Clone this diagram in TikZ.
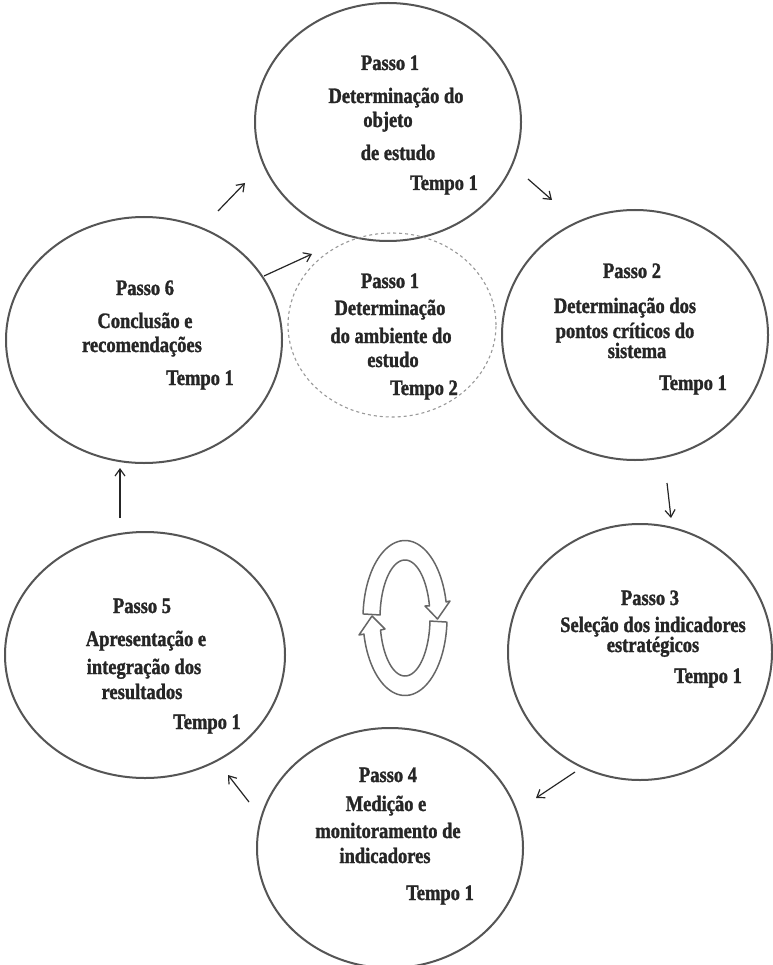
\documentclass[tikz,border=0pt]{standalone}
\usepackage{fontspec}
\newfontfamily\lab{Liberation Serif}[FakeStretch=0.84, FakeBold=1.4]
\usetikzlibrary{shapes.geometric,arrows.meta}
\definecolor{ring}{HTML}{555555}
\definecolor{ink}{HTML}{262626}
\begin{document}
\begin{tikzpicture}[x=1pt,y=-1pt,
  circ/.style={draw=ring, line width=2pt, ellipse, inner sep=0pt},
  dcirc/.style={draw=black!40, line width=1.1pt, dashed, dash pattern=on 3pt off 3pt, ellipse, inner sep=0pt},
  lbl/.style={font=\lab\bfseries\fontsize{22}{26}\selectfont, text=ink, inner sep=0pt, anchor=base},
  conn/.style={draw=ink, line width=1.2pt, -{Straight Barb[length=7pt,width=10pt]}},
  loopar/.style={draw=black!60, line width=1.5pt, fill=white, line join=round}]
\useasboundingbox (0,0) rectangle (772,965);
\fill[white] (0,0) rectangle (772,965);
% circles
\node[circ, minimum width=266pt, minimum height=238pt] (c1) at (388,122) {};
\node[dcirc, minimum width=208pt, minimum height=184pt] (cd) at (392,325) {};
\node[circ, minimum width=276pt, minimum height=246pt] (c6) at (144,340) {};
\node[circ, minimum width=266pt, minimum height=250pt] (c2) at (635,335) {};
\node[circ, minimum width=264pt, minimum height=256pt] (c3) at (640,652) {};
\node[circ, minimum width=266pt, minimum height=240pt] (c4) at (390,848) {};
\node[circ, minimum width=280pt, minimum height=246pt] (c5) at (145,655) {};
% texts circle 1
\node[lbl] (t1a) at (390,70) {Passo 1};
\node[lbl] (t1b) at (396,103) {Determinação do};
\node[lbl] (t1c) at (388,127) {objeto};
\node[lbl] (t1d) at (398,160) {de estudo};
\node[lbl] (t1e) at (444,190) {Tempo 1};
% dashed circle
\node[lbl] (tda) at (390,288) {Passo 1};
\node[lbl] (tdb) at (390,315) {Determinação};
\node[lbl] (tdc) at (391,343) {do ambiente do};
\node[lbl] (tdd) at (393,367) {estudo};
\node[lbl] (tde) at (424,395) {Tempo 2};
% circle 6
\node[lbl] (t6a) at (145,295) {Passo 6};
\node[lbl] (t6b) at (145,328) {Conclusão e};
\node[lbl] (t6c) at (142,352) {recomendações};
\node[lbl] (t6d) at (200,385) {Tempo 1};
% circle 2
\node[lbl] (t2a) at (632,278) {Passo 2};
\node[lbl] (t2b) at (625,313) {Determinação dos};
\node[lbl] (t2c) at (625,338) {pontos críticos do};
\node[lbl] (t2d) at (637,358) {sistema};
\node[lbl] (t2e) at (693,390) {Tempo 1};
% circle 3
\node[lbl] (t3a) at (650,605) {Passo 3};
\node[lbl] (t3b) at (653,632) {Seleção dos indicadores};
\node[lbl] (t3c) at (653,652) {estratégicos};
\node[lbl] (t3d) at (708,683) {Tempo 1};
% circle 4
\node[lbl] (t4a) at (388,782) {Passo 4};
\node[lbl] (t4b) at (386,811) {Medição e};
\node[lbl] (t4c) at (388,838) {monitoramento de};
\node[lbl] (t4d) at (385,863) {indicadores};
\node[lbl] (t4e) at (440,900) {Tempo 1};
% circle 5
\node[lbl] (t5a) at (142,613) {Passo 5};
\node[lbl] (t5b) at (146,646) {Apresentação e};
\node[lbl] (t5c) at (144,674) {integração dos};
\node[lbl] (t5d) at (142,699) {resultados};
\node[lbl] (t5e) at (207,729) {Tempo 1};
% connectors
\coordinate (a61s) at (218,211); \coordinate (a61e) at (245,183);
\coordinate (a6ds) at (264,276); \coordinate (a6de) at (312,254);
\coordinate (a12s) at (528,179); \coordinate (a12e) at (552,200);
\coordinate (a23s) at (667,483); \coordinate (a23e) at (671,518);
\coordinate (a34s) at (575,772); \coordinate (a34e) at (536,798);
\coordinate (a45s) at (249,802); \coordinate (a45e) at (228,775);
\coordinate (a56s) at (120,518); \coordinate (a56e) at (120,468);
\draw[conn] (a61s) -- (a61e);
\draw[conn] (a6ds) -- (a6de);
\draw[conn] (a12s) -- (a12e);
\draw[conn] (a23s) -- (a23e);
\draw[conn] (a34s) -- (a34e);
\draw[conn] (a45s) -- (a45e);
\draw[conn] (a56s) -- (a56e);
% central cycle arrows
\draw[loopar] plot[domain=183:348, samples=50] ({405+42*cos(\x)},{618+77.5*sin(\x)})
  -- (450,601) -- (437.5,619) -- (425,606)
  -- plot[domain=348:183, samples=50] ({405+25*cos(\x)},{618+58*sin(\x)}) -- cycle;
\draw[loopar] plot[domain=3:168, samples=50] ({405+42*cos(\x)},{618+77.5*sin(\x)})
  -- (359,635) -- (372,616) -- (385,629)
  -- plot[domain=168:3, samples=50] ({405+25*cos(\x)},{618+58*sin(\x)}) -- cycle;
\end{tikzpicture}
\end{document}
